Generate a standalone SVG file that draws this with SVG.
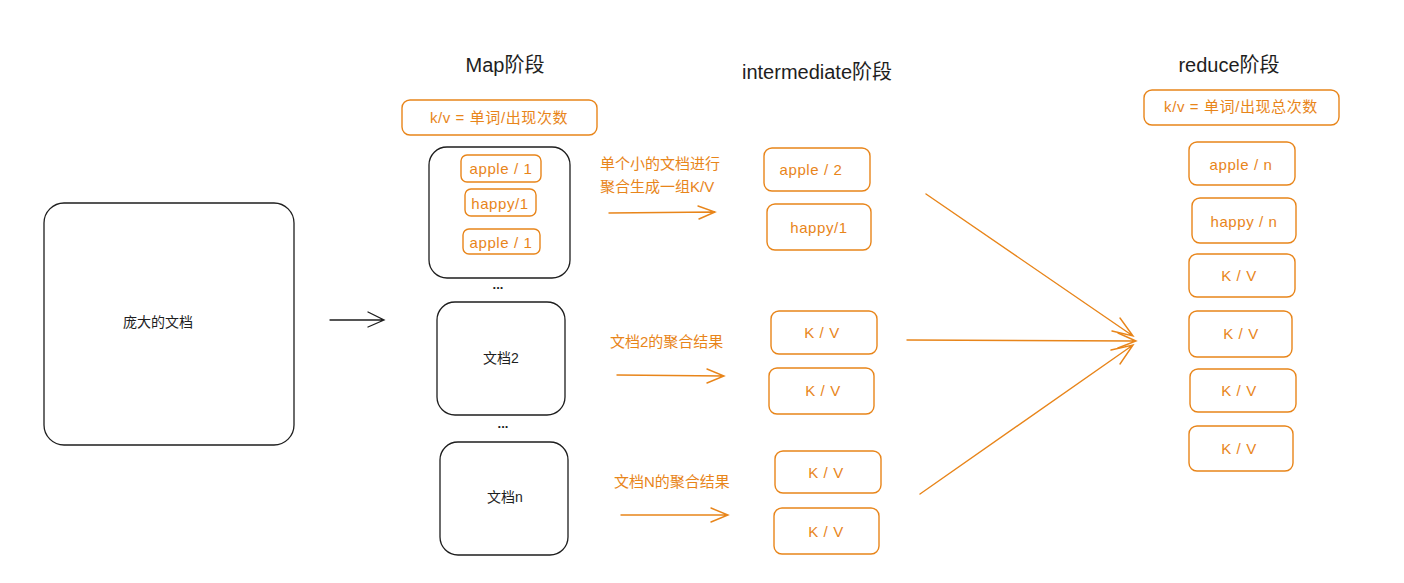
<svg xmlns="http://www.w3.org/2000/svg" width="1404" height="583" viewBox="0 0 1404 583">
<style>
.bg{fill:#ffffff}
.doc{fill:none;stroke:#1e1e1e;stroke-width:1.3}
.ob{fill:none;stroke:#e8851a;stroke-width:1.4}
.t{font-family:"Liberation Sans","Noto Sans CJK SC",sans-serif;font-size:14px;fill:#1e1e1e;text-anchor:middle;dominant-baseline:central}
.o{font-family:"Liberation Sans","Noto Sans CJK SC",sans-serif;font-size:15px;letter-spacing:0.6px;fill:#e8851a;text-anchor:middle;dominant-baseline:central}
.ol{font-family:"Liberation Sans","Noto Sans CJK SC",sans-serif;font-size:15px;fill:#e8851a;dominant-baseline:central}
.h{font-family:"Liberation Sans","Noto Sans CJK SC",sans-serif;font-size:20px;fill:#1e1e1e;text-anchor:middle;dominant-baseline:central}
.dots{font-family:"Liberation Sans",sans-serif;font-size:13px;font-weight:bold;fill:#1e1e1e;text-anchor:middle;dominant-baseline:central}
.ca{fill:none;stroke:#1e1e1e;stroke-width:1.3;stroke-linecap:round}
.oa{fill:none;stroke:#e8851a;stroke-width:1.4;stroke-linecap:round}
</style>
<rect class="bg" x="0" y="0" width="1404" height="583"/>

<g id="titles">
<text class="h" x="505" y="65">Map阶段</text>
<text class="h" x="817" y="72">intermediate阶段</text>
<text class="h" x="1229" y="65">reduce阶段</text>
</g>

<g id="big-doc">
<rect class="doc" x="44" y="203" width="250" height="242" rx="20"/>
<text class="t" x="158" y="322">庞大的文档</text>
</g>

<g id="map-kv">
<rect class="ob" x="402" y="100" width="195" height="35" rx="8"/>
<text class="o" x="499" y="117">k/v = 单词/出现次数</text>
</g>

<g id="doc1">
<rect class="doc" x="429" y="147" width="141" height="131" rx="18"/>
</g>
<g id="m-apple1"><rect class="ob" x="461" y="155" width="80" height="27" rx="6"/><text class="o" x="501" y="168">apple / 1</text></g>
<g id="m-happy1"><rect class="ob" x="465" y="189" width="71" height="27" rx="6"/><text class="o" x="500" y="203">happy/1</text></g>
<g id="m-apple2"><rect class="ob" x="463" y="229" width="77" height="25" rx="6"/><text class="o" x="501" y="242">apple / 1</text></g>
<text class="dots" x="498" y="284">...</text>

<g id="doc2">
<rect class="doc" x="437" y="302" width="128" height="113" rx="18"/>
<text class="t" x="501" y="358">文档2</text>
</g>
<text class="dots" x="503" y="423">...</text>
<g id="docn">
<rect class="doc" x="440" y="442" width="128" height="113" rx="18"/>
<text class="t" x="505" y="497">文档n</text>
</g>

<g id="labels">
<text class="ol" x="600" y="163">单个小的文档进行</text>
<text class="ol" x="600" y="186">聚合生成一组K/V</text>
<text class="ol" x="610" y="341">文档2的聚合结果</text>
<text class="ol" x="614" y="481">文档N的聚合结果</text>
</g>

<g id="i1"><rect class="ob" x="764" y="148" width="106" height="43" rx="8"/><text class="o" x="811" y="169">apple / 2</text></g>
<g id="i2"><rect class="ob" x="767" y="204" width="104" height="46" rx="8"/><text class="o" x="819" y="227">happy/1</text></g>
<g id="i3"><rect class="ob" x="771" y="311" width="106" height="43" rx="8"/><text class="o" x="822" y="332">K / V</text></g>
<g id="i4"><rect class="ob" x="769" y="368" width="105" height="46" rx="8"/><text class="o" x="823" y="390">K / V</text></g>
<g id="i5"><rect class="ob" x="775" y="451" width="106" height="42" rx="8"/><text class="o" x="826" y="472">K / V</text></g>
<g id="i6"><rect class="ob" x="774" y="508" width="105" height="46" rx="8"/><text class="o" x="826" y="531">K / V</text></g>

<g id="reduce-kv">
<rect class="ob" x="1144" y="90" width="195" height="35" rx="8"/>
<text class="o" x="1241" y="106">k/v = 单词/出现总次数</text>
</g>
<g id="r1"><rect class="ob" x="1189" y="142" width="106" height="43" rx="8"/><text class="o" x="1241" y="164">apple / n</text></g>
<g id="r2"><rect class="ob" x="1192" y="198" width="104" height="45" rx="8"/><text class="o" x="1244" y="221">happy / n</text></g>
<g id="r3"><rect class="ob" x="1189" y="254" width="106" height="43" rx="8"/><text class="o" x="1239" y="275">K / V</text></g>
<g id="r4"><rect class="ob" x="1189" y="311" width="103" height="46" rx="8"/><text class="o" x="1241" y="333">K / V</text></g>
<g id="r5"><rect class="ob" x="1190" y="369" width="106" height="43" rx="8"/><text class="o" x="1239" y="390">K / V</text></g>
<g id="r6"><rect class="ob" x="1189" y="426" width="104" height="45" rx="8"/><text class="o" x="1239" y="448">K / V</text></g>

<g id="connectors">
<path class="ca" d="M330 320 L384 320 M368 312 L384 320 L368 327"/>
<path class="oa" d="M609 213 L715 212 M698 206 L715 212 L699 219"/>
<path class="oa" d="M617 375 L724 376 M707 369 L724 376 L707 383"/>
<path class="oa" d="M621 515 L728 515 M711 508 L728 515 L711 522"/>
<path class="oa" d="M926 194 L1133 336 M1120 318 L1133 336 L1112 331"/>
<path class="oa" d="M907 340 L1136 341 M1118 333 L1136 341 L1118 348"/>
<path class="oa" d="M920 494 L1133 345 M1111 350 L1133 345 L1120 364"/>
</g>
</svg>
